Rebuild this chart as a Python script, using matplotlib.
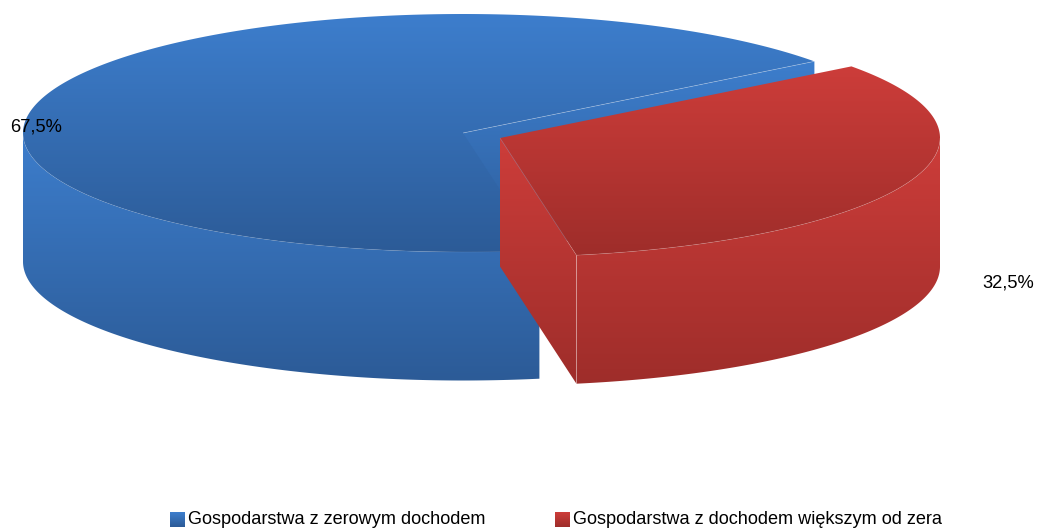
import numpy as np
import matplotlib
matplotlib.use('Agg')
import matplotlib.pyplot as plt
from matplotlib.colors import LinearSegmentedColormap
from matplotlib.patches import Polygon

labels = ['Gospodarstwa z zerowym dochodem', 'Gospodarstwa z dochodem większym od zera']
values = [67.5, 32.5]
value_labels = ['67,5%', '32,5%']

colors_top = ['#3d7ecd', '#cd3d3a']
colors_bottom = ['#2c5b97', '#9e2d2a']

plt.rcParams['font.family'] = ['Liberation Sans', 'DejaVu Sans']

fig = plt.figure(figsize=(10.39, 5.30), dpi=100)
ax = fig.add_axes([0, 0, 1, 1])

rx, ry = 440, 119
depth = 128.5
start_angle = 37.0  # blue slice starts here and runs counterclockwise
centers = [(463, 133), (500, 138)]


def arc(center, a0, a1):
    t = np.radians(np.linspace(a0, a1, 400))
    return np.column_stack([center[0] + rx * np.cos(t), center[1] - ry * np.sin(t)])


def fill(verts, i, z):
    # vertical gradient over the height of the shape, clipped to it
    verts = np.asarray(verts)
    cmap = LinearSegmentedColormap.from_list('g', [colors_top[i], colors_bottom[i]])
    patch = Polygon(verts, closed=True, fc='none', ec='none', zorder=z)
    ax.add_patch(patch)
    grad = np.linspace(0, 1, 256).reshape(-1, 1)
    im = ax.imshow(grad, cmap=cmap, aspect='auto', zorder=z, interpolation='bilinear',
                   extent=(verts[:, 0].min(), verts[:, 0].max(), verts[:, 1].max() + 1, verts[:, 1].min() - 1))
    im.set_clip_path(patch)


def edge(pts, z, alpha=0.45):
    pts = np.asarray(pts)
    ax.plot(pts[:, 0], pts[:, 1], color='white', lw=0.5, alpha=alpha, zorder=z, solid_capstyle='butt')


blue_end = start_angle + values[0] / sum(values) * 360
red_end = blue_end + values[1] / sum(values) * 360
down = np.array([0, depth])

# blue slice: inner wall, outer side, top face
c = np.array(centers[0])
top_arc = arc(c, start_angle, blue_end)
fill([c, top_arc[0], top_arc[0] + down, c + down], 0, 1)
side = arc(c, 180, blue_end)
fill(np.vstack([side, (side + down)[::-1]]), 0, 2)
fill(np.vstack([c, top_arc]), 0, 3)
edge([c, top_arc[0]], 4, 0.35)
edge(side, 4, 0.12)

# red slice: cut wall, outer side, top face
c = np.array(centers[1])
top_arc = arc(c, blue_end, red_end)
fill([c, top_arc[0], top_arc[0] + down, c + down], 1, 5)
side = arc(c, blue_end, 360)
fill(np.vstack([side, (side + down)[::-1]]), 1, 6)
fill(np.vstack([c, top_arc]), 1, 7)
edge([c, top_arc[0]], 8, 0.2)
edge([top_arc[0], top_arc[0] + down], 8, 0.45)
edge(side, 8, 0.2)

# data labels
ax.text(36.5, 127.5, value_labels[0], fontsize=13.2, ha='center', va='center', color='black', zorder=10)
ax.text(1008.5, 283.5, value_labels[1], fontsize=13.2, ha='center', va='center', color='black', zorder=10)

# legend
for i, x in enumerate([170, 555]):
    grad = np.linspace(0, 1, 32).reshape(-1, 1)
    cmap = LinearSegmentedColormap.from_list('k', [colors_top[i], colors_bottom[i]])
    ax.imshow(grad, cmap=cmap, aspect='auto', extent=(x, x + 15, 527, 512), zorder=10)
    ax.text(x + 18, 519, labels[i], fontsize=13.05, ha='left', va='center', color='black', zorder=10)

ax.set_xlim(0, 1039)
ax.set_ylim(530, 0)
ax.axis('off')

fig.savefig('out.png', dpi=100)
